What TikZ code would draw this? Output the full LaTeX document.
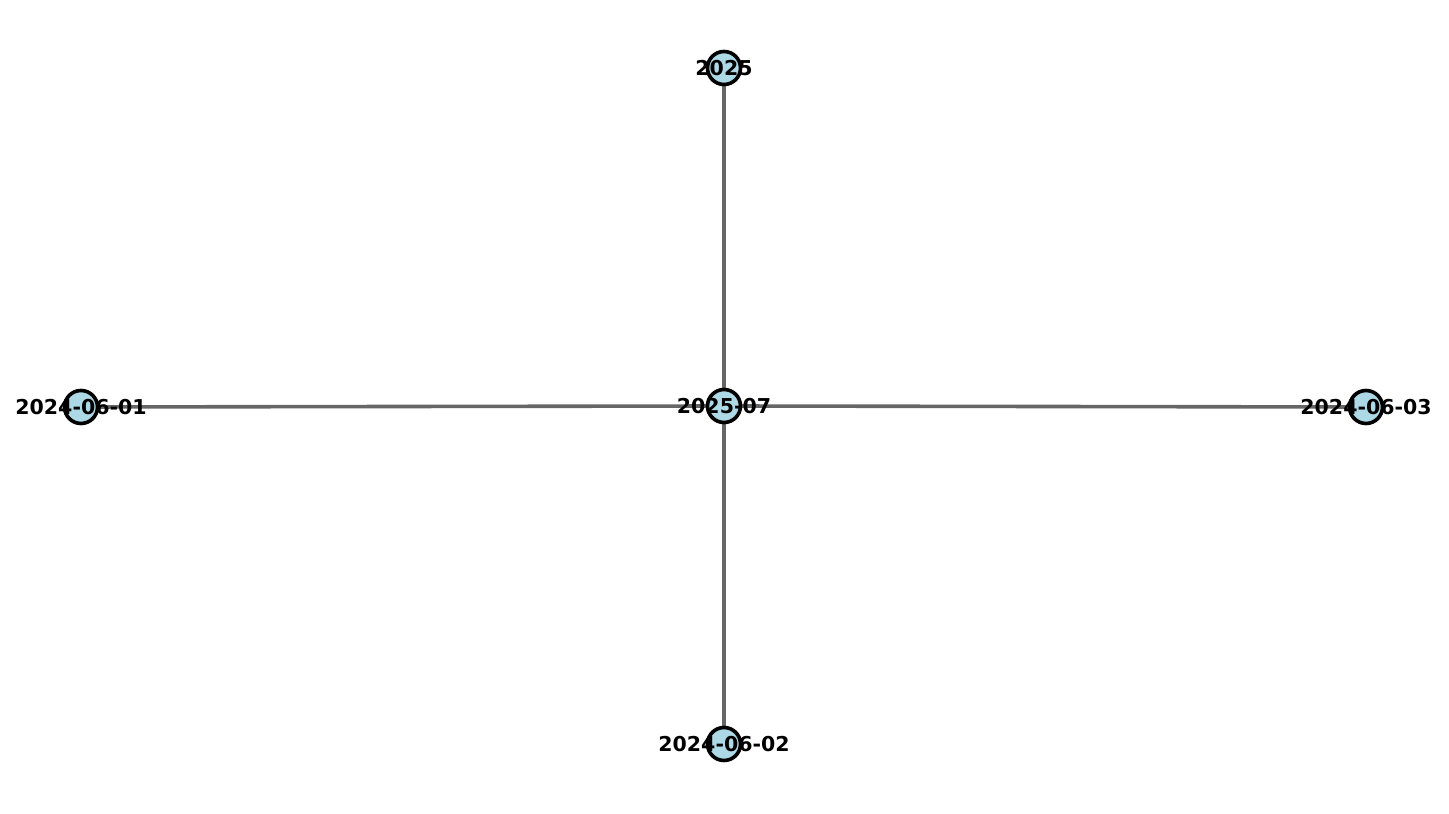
\documentclass[tikz,border=0pt]{standalone}
\usepackage{fontspec}
\setmainfont{DejaVu Sans}
\usetikzlibrary{backgrounds}
\definecolor{nodefill}{RGB}{173,216,230}
\definecolor{edgecol}{RGB}{102,102,102}
\begin{document}
\begin{tikzpicture}[x=1pt,y=1pt,
  vert/.style={circle,draw=black,fill=nodefill,line width=3.6pt,minimum size=33pt,inner sep=0pt},
  lab/.style={inner sep=0pt,font=\fontsize{20.5}{24}\selectfont\bfseries,text=black},
  edge/.style={draw=edgecol,line width=3.6pt}]
\useasboundingbox (0,0) rectangle (1449,814);
\node[vert] (c) at (724,408) {};
\node[vert] (t) at (724,746) {};
\node[vert] (l) at (81,407) {};
\node[vert] (r) at (1366,407) {};
\node[vert] (b) at (724,70) {};
\begin{scope}[on background layer]
\draw[edge] (c.center) -- (t.center);
\draw[edge] (c.center) -- (l.center);
\draw[edge] (c.center) -- (r.center);
\draw[edge] (c.center) -- (b.center);
\end{scope}
\node[lab] (ct) at (c.center) {2025-07};
\node[lab] (tt) at (t.center) {2025};
\node[lab] (lt) at (l.center) {2024-06-01};
\node[lab] (rt) at (r.center) {2024-06-03};
\node[lab] (bt) at (b.center) {2024-06-02};
\end{tikzpicture}
\end{document}
